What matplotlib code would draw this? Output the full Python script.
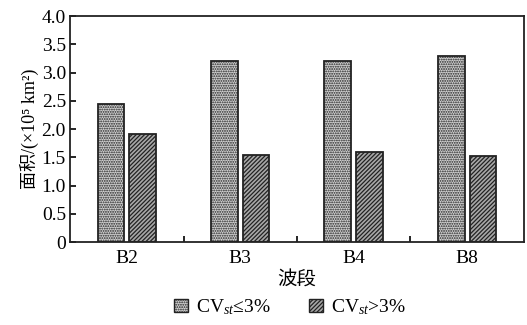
import numpy as np
import matplotlib.pyplot as plt
from matplotlib.patches import Patch

plt.rcParams['font.family'] = ['Liberation Serif', 'Noto Sans CJK SC', 'DejaVu Sans']
plt.rcParams['mathtext.fontset'] = 'custom'
plt.rcParams['mathtext.rm'] = 'Liberation Serif'
plt.rcParams['mathtext.it'] = 'Liberation Serif:italic'
plt.rcParams['hatch.linewidth'] = 0.9

bands = ['B2', 'B3', 'B4', 'B8']
low_cv = [2.45, 3.20, 3.20, 3.30]
high_cv = [1.92, 1.55, 1.60, 1.52]

fig = plt.figure(figsize=(5.27, 3.25), dpi=100)
ax = fig.add_axes([0.133, 0.255, 0.861, 0.695])

x = np.arange(len(bands))
w = 0.235
ax.bar(x - 0.14, low_cv, w, facecolor='#d0d0d0', edgecolor='#222222',
       hatch='.......', linewidth=1.3)
ax.bar(x + 0.14, high_cv, w, facecolor='#a8a8a8', edgecolor='#222222',
       hatch='////////', linewidth=1.3)

ax.set_xlim(-0.5, 3.5)
ax.set_ylim(0, 4.0)
ax.set_yticks(np.arange(0, 4.01, 0.5))
ax.set_yticklabels(['0'] + ['%.1f' % v for v in np.arange(0.5, 4.01, 0.5)])
ax.set_xticks(x)
ax.set_xticklabels(bands)
ax.set_xticks([0.5, 1.5, 2.5], minor=True)
ax.tick_params(axis='x', which='major', length=0, labelsize=14, pad=6)
ax.tick_params(axis='x', which='minor', direction='in', length=4, width=1.2)
ax.tick_params(axis='y', direction='in', length=4, width=1.2, labelsize=14, pad=3)
for s in ax.spines.values():
    s.set_linewidth(1.3)
    s.set_color('#222222')

ax.set_xlabel('波段', fontsize=14, labelpad=2)
ax.set_ylabel('面积/(×10⁵ km²)', fontsize=13, labelpad=2)

handles = [Patch(facecolor='#d0d0d0', edgecolor='#222222', hatch='.......'),
           Patch(facecolor='#a8a8a8', edgecolor='#222222', hatch='////////')]
labels = ['CV$_{st}$≤3%', 'CV$_{st}$>3%']
fig.legend(handles, labels, loc='center', bbox_to_anchor=(0.55, 0.055), ncol=2,
           frameon=False, fontsize=14, handlelength=0.7, handleheight=0.7,
           handletextpad=0.4, columnspacing=2.0)

plt.savefig('out.png', dpi=100)
